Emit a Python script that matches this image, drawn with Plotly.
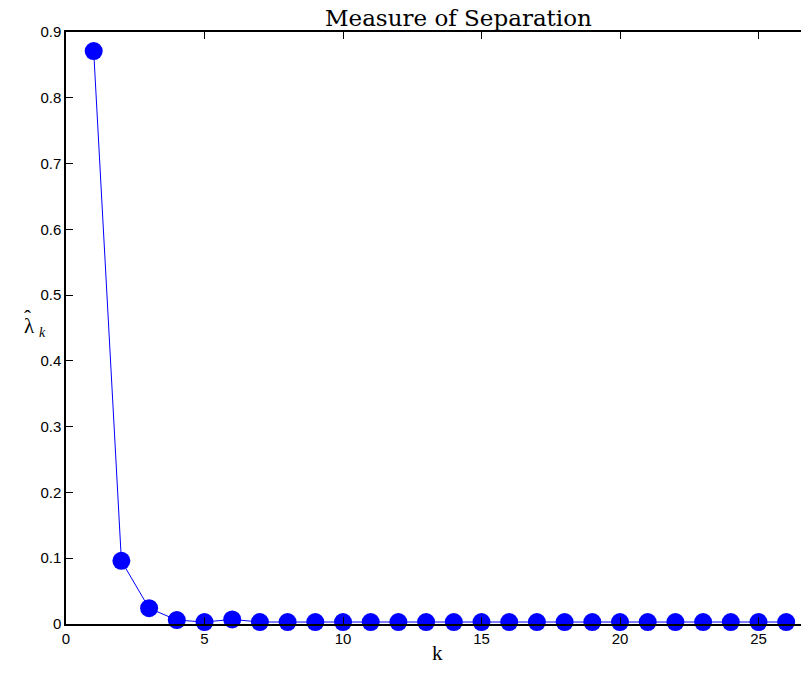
import plotly.graph_objects as go

k_values = list(range(1, 27))
lambda_hat = [0.871, 0.096, 0.024, 0.006, 0.003, 0.007, 0.003, 0.003, 0.003, 0.003,
              0.003, 0.003, 0.003, 0.003, 0.003, 0.003, 0.003, 0.003, 0.003, 0.003,
              0.003, 0.003, 0.003, 0.003, 0.003, 0.003]
x_ticks = [0, 5, 10, 15, 20, 25]
y_ticks = [0, 0.1, 0.2, 0.3, 0.4, 0.5, 0.6, 0.7, 0.8, 0.9]
y_tick_text = ["0", "0.1", "0.2", "0.3", "0.4", "0.5", "0.6", "0.7", "0.8", "0.9"]

# page body has an 8px margin; figure is offset by it
OFF = 8
W, H = 809, 659
L, R, T, B = 66 - OFF, 0, 32 - OFF, H - (624 - OFF)
pw, ph = W - L - R, H - T - B
px_per_k = (204.5 - 66) / 5.0
x_max = pw / px_per_k

def px(xp):
    return (xp - OFF - L) / pw

def py(yp):
    return (H - B - (yp - OFF)) / ph

fig = go.Figure()
fig.add_trace(go.Scatter(
    x=k_values, y=lambda_hat, mode="lines+markers",
    line=dict(color="#0000ff", width=1),
    marker=dict(color="#0000ff", size=18),
    cliponaxis=False, showlegend=False,
))

serif = "Liberation Serif, DejaVu Serif, serif"
fig.update_layout(
    width=W, height=H,
    margin=dict(l=L, r=R, t=T, b=B, autoexpand=False),
    plot_bgcolor="white", paper_bgcolor="white",
    font=dict(family="Liberation Sans, Arial, sans-serif", size=14, color="black"),
    xaxis=dict(range=[0, x_max], tickvals=x_ticks, ticks="inside", ticklen=7, tickcolor="black",
               showline=True, linecolor="black", linewidth=1.5, mirror="ticks", automargin=False,
               showgrid=False, zeroline=False, tickfont=dict(size=15)),
    yaxis=dict(range=[0, 0.9], tickvals=y_ticks, ticktext=y_tick_text, ticks="inside", ticklen=7,
               tickcolor="black", showline=True, linecolor="black", linewidth=1.5, mirror=False,
               automargin=False, showgrid=False, zeroline=False, tickfont=dict(size=15)),
    annotations=[
        dict(text="Measure of Separation", xref="paper", yref="paper", x=px(458), y=py(18),
             xanchor="center", yanchor="middle", showarrow=False,
             font=dict(family="DejaVu Serif, serif", size=23)),
        dict(text="k", xref="paper", yref="paper", x=px(437), y=py(667), xanchor="center",
             yanchor="bottom", showarrow=False, font=dict(family=serif, size=21)),
        dict(text="λ", xref="paper", yref="paper", x=px(29), y=py(326),
             xanchor="center", yanchor="middle", showarrow=False,
             font=dict(family=serif, size=21)),
        dict(text="ˆ", xref="paper", yref="paper", x=px(27), y=py(318),
             xanchor="center", yanchor="middle", showarrow=False,
             font=dict(family=serif, size=21)),
        dict(text="<i>k</i>", xref="paper", yref="paper", x=px(42), y=py(332),
             xanchor="center", yanchor="middle", showarrow=False,
             font=dict(family=serif, size=14)),
    ],
)

fig.write_html("out.html")
